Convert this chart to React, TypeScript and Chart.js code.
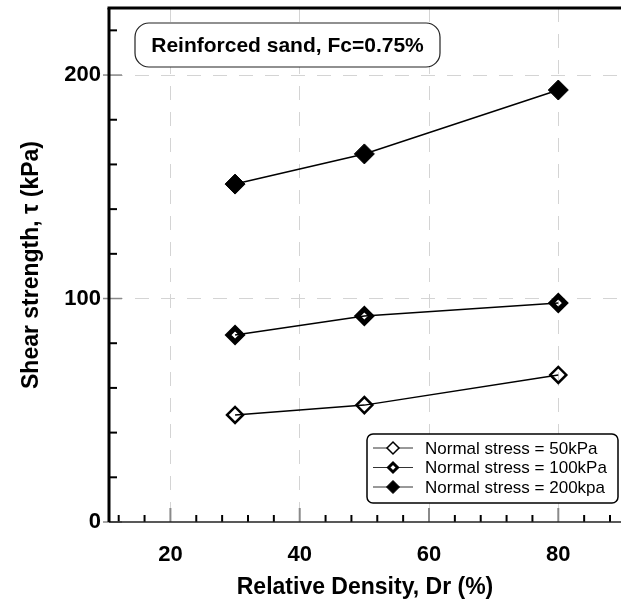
import React, { useEffect, useRef } from 'react';
import { Chart, registerables } from 'chart.js';

Chart.register(...registerables);

// ---- data ----
const densities = [30, 50, 80];
const seriesLabels = ['Normal stress = 50kPa', 'Normal stress = 100kPa', 'Normal stress = 200kpa'];
const stress50 = [47.9, 52.3, 65.8];
const stress100 = [83.7, 92.2, 98.0];
const stress200 = [151.2, 164.7, 193.3];
const xMajorTicks = [20, 40, 60, 80];
const xMinorTicks = [12, 16, 24, 28, 32, 36, 44, 48, 52, 56, 64, 68, 72, 76, 84, 88];
const yMajorTicks = [0, 100, 200];
const yMinorTicks = [20, 40, 60, 80, 120, 140, 160, 180, 220];
const chartTitle = 'Reinforced sand, Fc=0.75%';
const xTitle = 'Relative Density, Dr (%)';
const yTitle = 'Shear strength, τ (kPa)';

const FONT = "'Liberation Sans', Arial, sans-serif";

const seriesValues = [stress50, stress100, stress200];
const markerStyles = [
  { fill: 'rgba(0,0,0,0)', radius: 8, border: 2.5, legendRadius: 6, legendBorder: 1.5 },
  { fill: 'rgba(0,0,0,0)', radius: 7, border: 5, legendRadius: 4.5, legendBorder: 3 },
  { fill: '#000', radius: 10, border: 1, legendRadius: 6.5, legendBorder: 1 },
];

function diamond(ctx: CanvasRenderingContext2D, x: number, y: number, r: number, fill: string, bw: number) {
  ctx.beginPath();
  ctx.moveTo(x - r, y);
  ctx.lineTo(x, y - r);
  ctx.lineTo(x + r, y);
  ctx.lineTo(x, y + r);
  ctx.closePath();
  ctx.fillStyle = fill;
  ctx.fill();
  ctx.lineWidth = bw;
  ctx.strokeStyle = '#000';
  ctx.stroke();
}

const framePlugin = {
  id: 'frameDecor',
  afterDraw(chart: any) {
    const { ctx, chartArea: a, scales } = chart;
    const xs = scales.x;
    const ys = scales.y;
    const line = (x1: number, y1: number, x2: number, y2: number) => {
      ctx.beginPath();
      ctx.moveTo(x1, y1);
      ctx.lineTo(x2, y2);
      ctx.stroke();
    };
    ctx.save();
    ctx.setLineDash([]);
    // minor x ticks
    ctx.strokeStyle = '#000';
    ctx.lineWidth = 2;
    xMinorTicks.forEach((v) => {
      const p = xs.getPixelForValue(v);
      line(p, a.bottom, p, a.bottom - 7);
    });
    // major x ticks
    ctx.strokeStyle = '#8a8a8a';
    ctx.lineWidth = 2;
    xMajorTicks.forEach((v) => {
      const p = xs.getPixelForValue(v);
      line(p, a.bottom, p, a.bottom - 14);
    });
    // minor y ticks
    ctx.strokeStyle = '#000';
    ctx.lineWidth = 2;
    yMinorTicks.forEach((v) => {
      const p = ys.getPixelForValue(v);
      line(a.left, p, a.left + 8, p);
    });
    // major y ticks
    ctx.strokeStyle = '#8a8a8a';
    ctx.lineWidth = 1.5;
    yMajorTicks.forEach((v) => {
      const p = ys.getPixelForValue(v);
      line(a.left - 6, p, a.left + 13, p);
    });
    // bottom axis
    ctx.strokeStyle = '#222';
    ctx.lineWidth = 1.5;
    line(a.left, a.bottom, a.right, a.bottom);
    // left axis & top border
    ctx.strokeStyle = '#000';
    ctx.lineWidth = 3;
    line(a.left, a.top, a.left, a.bottom);
    line(a.left - 1.5, a.top, a.right, a.top);

    // title box
    ctx.lineWidth = 1.2;
    ctx.strokeStyle = '#222';
    ctx.fillStyle = '#fff';
    ctx.beginPath();
    (ctx as any).roundRect(135, 23, 305, 44, 14);
    ctx.fill();
    ctx.stroke();
    ctx.fillStyle = '#000';
    ctx.font = `bold 21px ${FONT}`;
    ctx.textAlign = 'center';
    ctx.textBaseline = 'middle';
    ctx.fillText(chartTitle, 287.5, 46);

    // legend
    const lx = 367, ly = 434, lw = 251, lh = 69;
    ctx.lineWidth = 1.5;
    ctx.strokeStyle = '#000';
    ctx.fillStyle = '#fff';
    ctx.beginPath();
    (ctx as any).roundRect(lx, ly, lw, lh, 6);
    ctx.fill();
    ctx.stroke();
    ctx.font = `17px ${FONT}`;
    ctx.textAlign = 'left';
    chart.data.datasets.forEach((ds: any, i: number) => {
      const cy = 448 + i * 19.5;
      ctx.strokeStyle = '#333';
      ctx.lineWidth = 1;
      line(373, cy, 413, cy);
      const m = markerStyles[i];
      diamond(ctx, 393, cy, m.legendRadius, m.fill === '#000' ? '#000' : '#fff', m.legendBorder);
      ctx.fillStyle = '#000';
      ctx.fillText(ds.label, 425, cy + 1);
    });
    ctx.restore();
  },
};

export default function App() {
  const ref = useRef<HTMLCanvasElement>(null);
  useEffect(() => {
    if (!ref.current) return;
    const datasets = seriesValues.map((vals, i) => ({
      label: seriesLabels[i],
      data: densities.map((d, j) => ({ x: d, y: vals[j] })),
      borderColor: '#000',
      borderWidth: 1.5,
      pointStyle: 'rectRot' as const,
      pointRadius: markerStyles[i].radius,
      pointBorderWidth: markerStyles[i].border,
      pointBackgroundColor: markerStyles[i].fill,
      pointBorderColor: '#000',
      fill: false,
      tension: 0,
    }));
    const chart = new Chart(ref.current, {
      type: 'line',
      data: { datasets },
      options: {
        animation: false,
        responsive: false,
        layout: { autoPadding: false, padding: { top: 8, left: 0, right: 0, bottom: 0 } },
        plugins: { legend: { display: false }, tooltip: { enabled: false } },
        scales: {
          x: {
            type: 'linear',
            min: 10.5,
            max: 89.7,
            afterBuildTicks: (s: any) => {
              s.ticks = xMajorTicks.map((v) => ({ value: v }));
            },
            afterFit: (s: any) => {
              s.height = 83;
              s.paddingLeft = 0;
              s.paddingRight = 0;
            },
            grid: { color: '#d4d4d4', lineWidth: 1, drawTicks: false },
            border: { display: false, dash: [14, 12] },
            ticks: {
              font: { family: FONT, weight: 'bold', size: 22 },
              color: '#000',
              padding: 20,
              maxRotation: 0,
              autoSkip: false,
            },
            title: {
              display: true,
              text: xTitle,
              font: { family: FONT, weight: 'bold', size: 23 },
              color: '#000',
              padding: { top: 0, bottom: 4 },
            },
          },
          y: {
            type: 'linear',
            min: 0,
            max: 230,
            afterBuildTicks: (s: any) => {
              s.ticks = yMajorTicks.map((v) => ({ value: v }));
            },
            afterFit: (s: any) => {
              s.width = 109;
              s.paddingTop = 0;
              s.paddingBottom = 0;
            },
            grid: {
              color: (c: any) => (c.tick && c.tick.value === 0 ? 'rgba(0,0,0,0)' : '#d4d4d4'),
              lineWidth: 1,
              drawTicks: false,
            },
            border: { display: false, dash: [14, 12] },
            ticks: {
              font: { family: FONT, weight: 'bold', size: 22 },
              color: '#000',
              padding: 8,
              autoSkip: false,
            },
            title: {
              display: true,
              text: yTitle,
              font: { family: FONT, weight: 'bold', size: 23 },
              color: '#000',
              padding: { top: 18, bottom: 0 },
            },
          },
        },
      },
      plugins: [framePlugin],
    } as any);
    return () => chart.destroy();
  }, []);
  return (
    <div style={{ position: 'absolute', left: 0, top: 0, width: 621, height: 605, background: '#fff' }}>
      <canvas ref={ref} width={621} height={605} style={{ display: 'block' }} />
    </div>
  );
}
